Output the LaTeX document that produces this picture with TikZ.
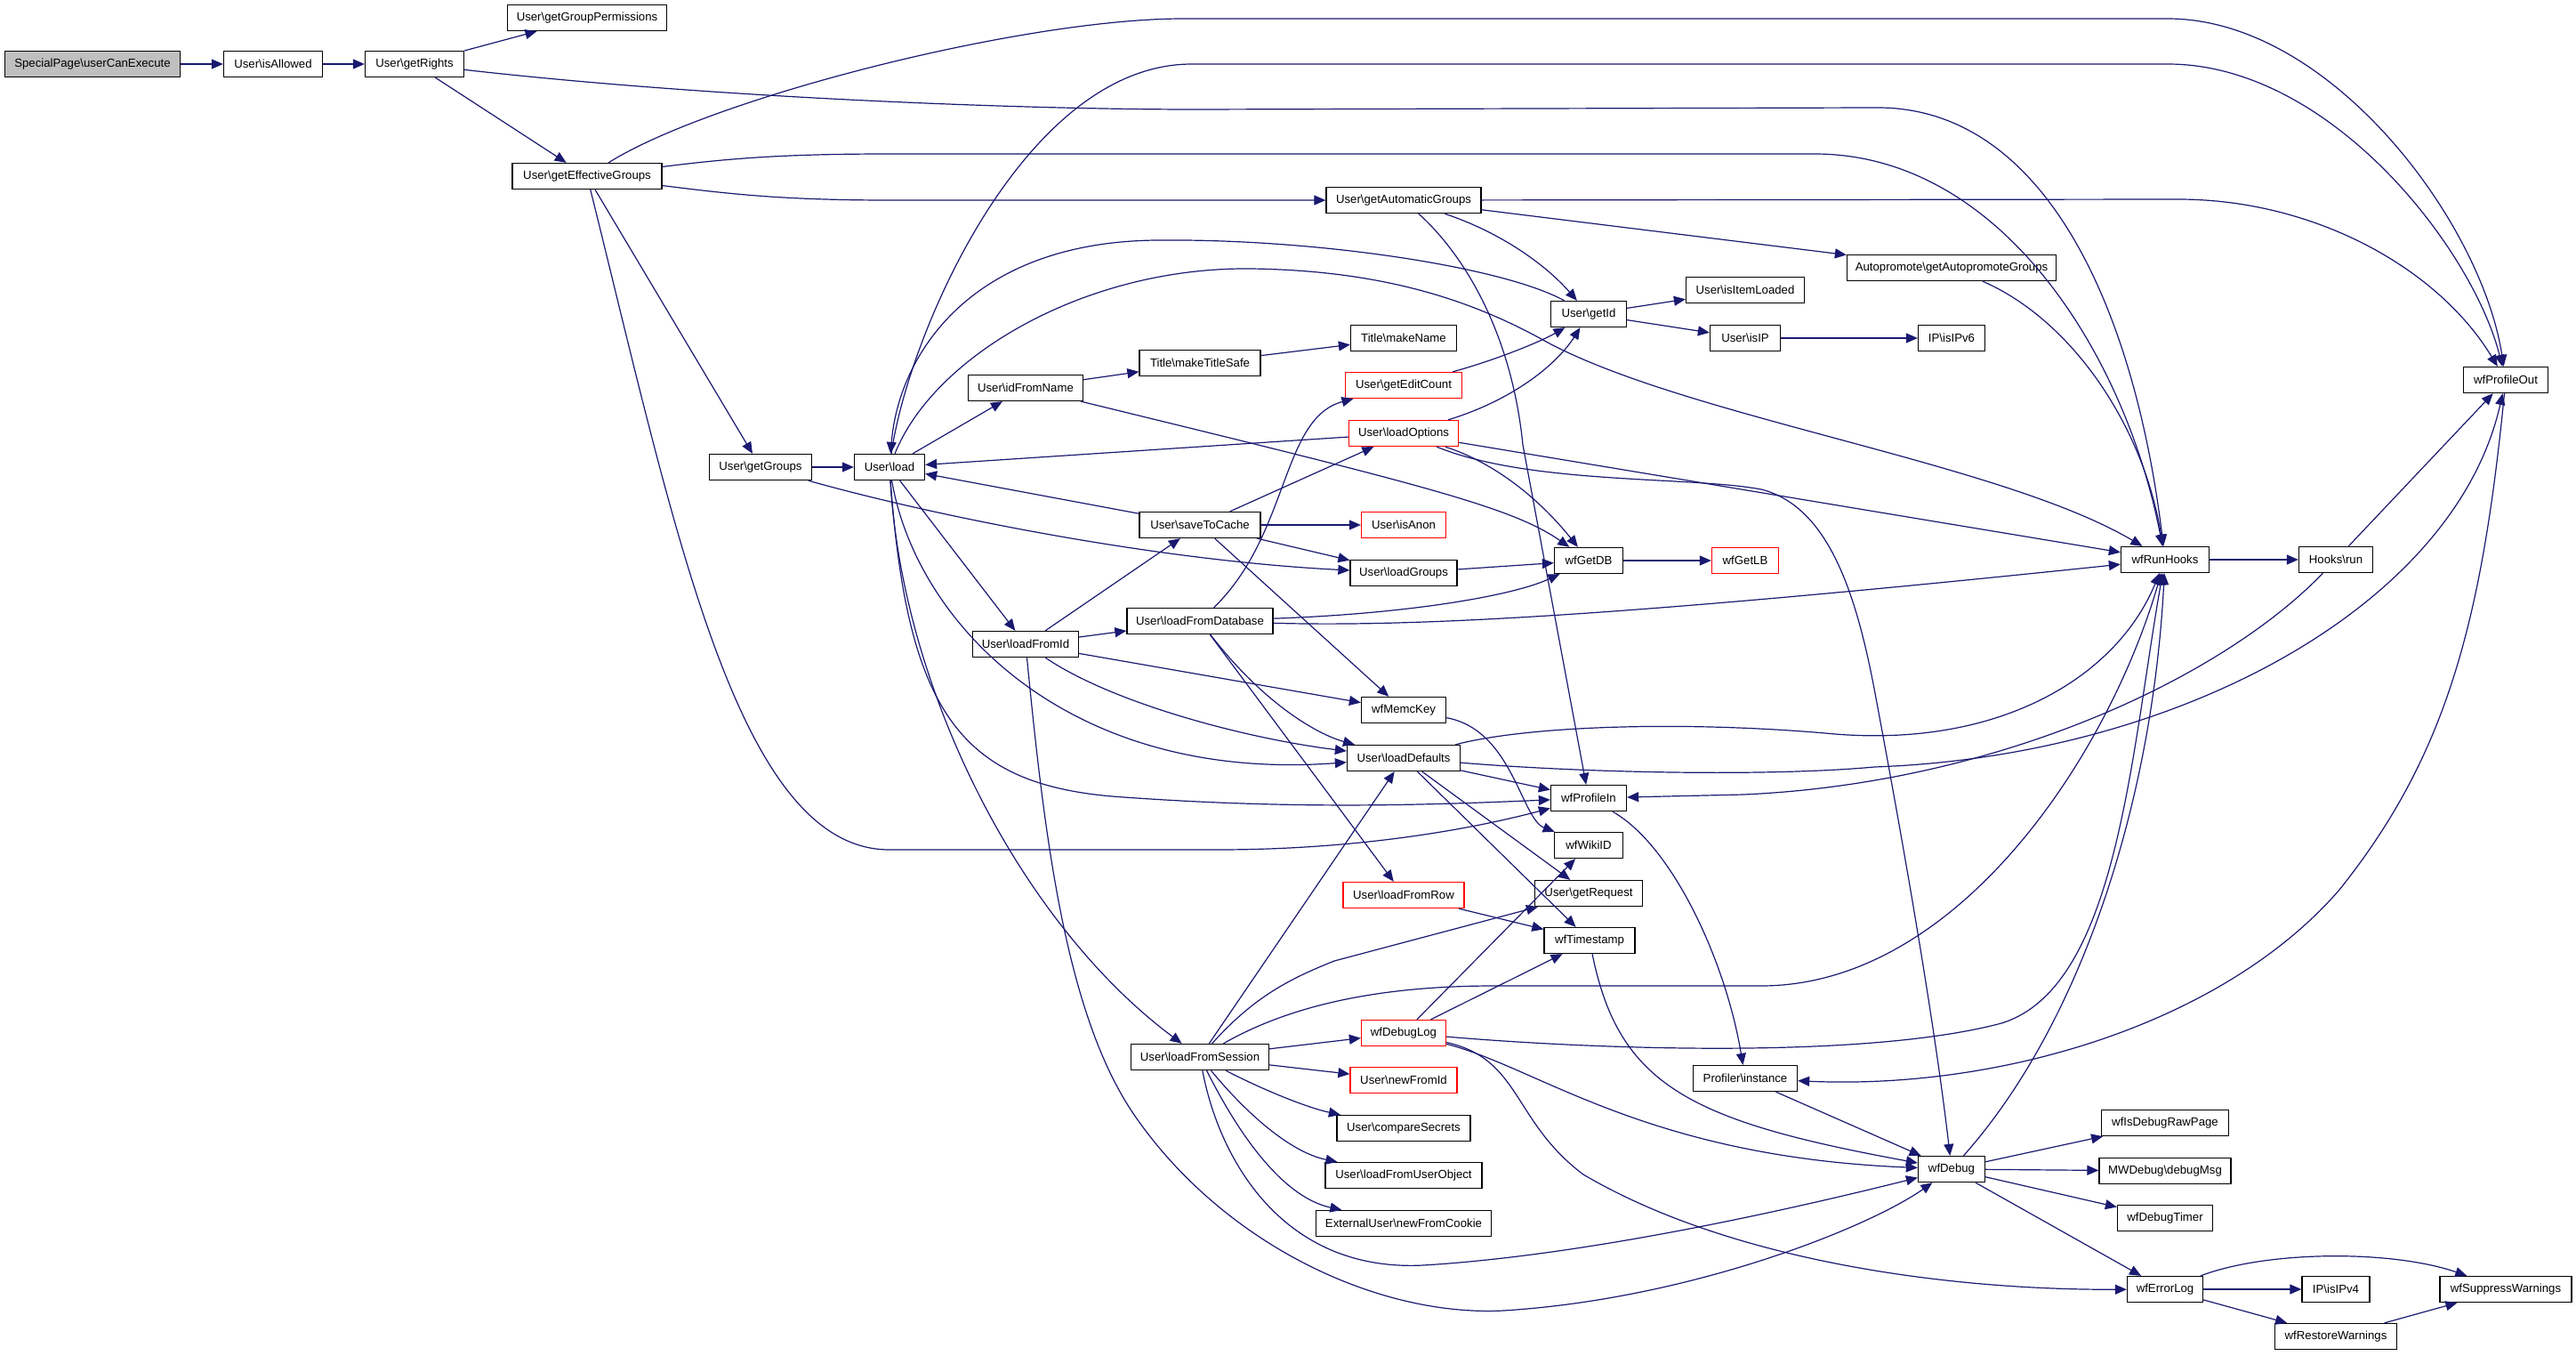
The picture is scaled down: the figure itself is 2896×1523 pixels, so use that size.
\documentclass[tikz,border=0pt]{standalone}
\usepackage{fontspec}
\setmainfont{Liberation Sans}
\usetikzlibrary{arrows.meta}
\definecolor{edgec}{HTML}{191970}
\definecolor{rootfill}{HTML}{BFBFBF}
\newcommand{\bsl}{\textbackslash}
\begin{document}
\begin{tikzpicture}[x=1pt,y=-1pt,
  nd/.style={draw=black, fill=white, line width=1.3pt, minimum height=29pt, inner sep=0pt, font=\fontsize{13.2}{15}\selectfont},
  rd/.style={nd, draw=red},
  e/.style={draw=edgec, line width=1.2pt, -{Triangle[length=13pt,width=11pt]}}]
\fill[white] (0,0) rectangle (2896,1523);
\path[use as bounding box] (0,0) rectangle (2896,1523);
% nodes
\node[nd, minimum width=197pt, fill=rootfill] (uce) at (104,72) {SpecialPage\bsl userCanExecute};
\node[nd, minimum width=111pt] (isAllowed) at (307,72) {User\bsl isAllowed};
\node[nd, minimum width=111pt] (getRights) at (466,72) {User\bsl getRights};
\node[nd, minimum width=179pt] (ggp) at (660,20) {User\bsl getGroupPermissions};
\node[nd, minimum width=168pt] (geg) at (660,198) {User\bsl getEffectiveGroups};
\node[nd, minimum width=115pt] (getGroups) at (855,525) {User\bsl getGroups};
\node[nd, minimum width=79pt] (load) at (1000,525) {User\bsl load};
\node[nd, minimum width=174pt] (gag) at (1578,225) {User\bsl getAutomaticGroups};
\node[nd, minimum width=85pt] (getId) at (1786,353) {User\bsl getId};
\node[nd, minimum width=133pt] (isItemLoaded) at (1962,326) {User\bsl isItemLoaded};
\node[nd, minimum width=79pt] (isIP) at (1962,380) {User\bsl isIP};
\node[nd, minimum width=75pt] (isIPv6) at (2194,380) {IP\bsl isIPv6};
\node[nd, minimum width=119pt] (makeName) at (1578,380) {Title\bsl makeName};
\node[nd, minimum width=136pt] (makeTitleSafe) at (1349,408) {Title\bsl makeTitleSafe};
\node[nd, minimum width=129pt] (idFromName) at (1153,436) {User\bsl idFromName};
\node[rd, minimum width=131pt] (getEditCount) at (1578,433) {User\bsl getEditCount};
\node[rd, minimum width=123pt] (loadOptions) at (1578,487) {User\bsl loadOptions};
\node[nd, minimum width=235pt] (autoprom) at (2194,301) {Autopromote\bsl getAutopromoteGroups};
\node[nd, minimum width=95pt] (wfProfileOut) at (2817,427) {wfProfileOut};
\node[nd, minimum width=136pt] (saveToCache) at (1349,590) {User\bsl saveToCache};
\node[rd, minimum width=95pt] (isAnon) at (1578,590) {User\bsl isAnon};
\node[nd, minimum width=77pt] (wfGetDB) at (1786,630) {wfGetDB};
\node[rd, minimum width=75pt] (wfGetLB) at (1962,630) {wfGetLB};
\node[nd, minimum width=120pt] (loadGroups) at (1578,644) {User\bsl loadGroups};
\node[nd, minimum width=164pt] (loadFromDatabase) at (1349,698) {User\bsl loadFromDatabase};
\node[nd, minimum width=119pt] (loadFromId) at (1153,724) {User\bsl loadFromId};
\node[nd, minimum width=95pt] (wfMemcKey) at (1578,798) {wfMemcKey};
\node[nd, minimum width=127pt] (loadDefaults) at (1578,852) {User\bsl loadDefaults};
\node[nd, minimum width=85pt] (wfProfileIn) at (1786,897) {wfProfileIn};
\node[nd, minimum width=77pt] (wfWikiID) at (1786,950) {wfWikiID};
\node[rd, minimum width=136pt] (loadFromRow) at (1578,1006) {User\bsl loadFromRow};
\node[nd, minimum width=121pt] (getRequest) at (1786,1004) {User\bsl getRequest};
\node[nd, minimum width=99pt] (wfRunHooks) at (2434,629) {wfRunHooks};
\node[nd, minimum width=83pt] (hooksRun) at (2626,629) {Hooks\bsl run};
\node[nd, minimum width=102pt] (wfTimestamp) at (1787,1057) {wfTimestamp};
\node[rd, minimum width=95pt] (wfDebugLog) at (1578,1161) {wfDebugLog};
\node[nd, minimum width=155pt] (loadFromSession) at (1349,1188) {User\bsl loadFromSession};
\node[rd, minimum width=120pt] (newFromId) at (1578,1214) {User\bsl newFromId};
\node[nd, minimum width=150pt] (compareSecrets) at (1578,1268) {User\bsl compareSecrets};
\node[nd, minimum width=176pt] (loadFromUserObject) at (1578,1321) {User\bsl loadFromUserObject};
\node[nd, minimum width=197pt] (newFromCookie) at (1578,1375) {ExternalUser\bsl newFromCookie};
\node[nd, minimum width=117pt] (profInst) at (1962,1212) {Profiler\bsl instance};
\node[nd, minimum width=75pt] (wfDebug) at (2194,1314) {wfDebug};
\node[nd, minimum width=143pt] (wfIsDebugRawPage) at (2434,1262) {wfIsDebugRawPage};
\node[nd, minimum width=148pt] (debugMsg) at (2434,1316) {MWDebug\bsl debugMsg};
\node[nd, minimum width=107pt] (wfDebugTimer) at (2434,1369) {wfDebugTimer};
\node[nd, minimum width=85pt] (wfErrorLog) at (2434,1449) {wfErrorLog};
\node[nd, minimum width=76pt] (isIPv4) at (2626,1449) {IP\bsl isIPv4};
\node[nd, minimum width=148pt] (wfSuppressWarnings) at (2817,1449) {wfSuppressWarnings};
\node[nd, minimum width=137pt] (wfRestoreWarnings) at (2626,1502) {wfRestoreWarnings};
% edges
\draw[e] (uce) -- (isAllowed);
\draw[e] (isAllowed) -- (getRights);
\draw[e] (getRights) -- (ggp);
\draw[e] (getRights) -- (geg);
\draw[e] (getRights) .. controls (800,110) and (1150,123) .. (1343,123) -- (2107,121) .. controls (2300,118) and (2400,350) .. (wfRunHooks);
\draw[e] (geg) .. controls (800,110) and (1150,21) .. (1330,21) -- (2437,21) .. controls (2620,21) and (2790,250) .. (wfProfileOut);
\draw[e] (load) .. controls (1020,380) and (1150,72) .. (1340,72) -- (2437,72) .. controls (2620,72) and (2780,280) .. (wfProfileOut);
\draw[e] (geg) .. controls (820,178) and (880,173) .. (1000,173) -- (2040,173) .. controls (2250,173) and (2390,400) .. (wfRunHooks);
\draw[e] (geg) .. controls (820,218) and (880,225) .. (1000,225) -- (gag);
\draw[e] (geg) -- (getGroups);
\draw[e] (geg) .. controls (760,600) and (830,955) .. (1000,955) -- (1368,955) .. controls (1550,955) and (1680,925) .. (wfProfileIn);
\draw[e] (gag) -- (2449,224) .. controls (2600,224) and (2740,300) .. (wfProfileOut);
\draw[e] (gag) -- (autoprom);
\draw[e] (gag) .. controls (1690,262) and (1740,300) .. (getId);
\draw[e] (gag) .. controls (1650,290) and (1700,380) .. (1712,500) -- (wfProfileIn);
\draw[e] (autoprom) .. controls (2330,360) and (2410,480) .. (wfRunHooks);
\draw[e] (getId) -- (isItemLoaded);
\draw[e] (getId) -- (isIP);
\draw[e] (isIP) -- (isIPv6);
\draw[e] (getId) .. controls (1690,300) and (1480,268) .. (1300,270) .. controls (1090,272) and (1010,400) .. (load);
\draw[e] (makeTitleSafe) -- (makeName);
\draw[e] (idFromName) -- (makeTitleSafe);
\draw[e] (idFromName) .. controls (1600,545) and (1700,570) .. (wfGetDB);
\draw[e] (getEditCount) .. controls (1680,405) and (1730,385) .. (getId);
\draw[e] (loadOptions) .. controls (1700,450) and (1750,410) .. (getId);
\draw[e] (loadOptions) -- (load);
\draw[e] (loadOptions) -- (wfRunHooks);
\draw[e] (loadOptions) .. controls (1680,520) and (1730,560) .. (wfGetDB);
\draw[e] (loadOptions) .. controls (1720,545) and (1900,535) .. (1980,550) .. controls (2060,570) and (2090,680) .. (2110,790) .. controls (2140,950) and (2175,1150) .. (wfDebug);
\draw[e] (load) -- (idFromName);
\draw[e] (load) -- (loadFromId);
\draw[e] (load) .. controls (1030,700) and (1200,880) .. (loadDefaults);
\draw[e] (load) .. controls (1020,800) and (1080,880) .. (1250,895) .. controls (1450,910) and (1600,905) .. (wfProfileIn);
\draw[e] (load) .. controls (1015,780) and (1150,1040) .. (loadFromSession);
\draw[e] (load) .. controls (1050,400) and (1220,300) .. (1406,302) .. controls (1560,304) and (1660,340) .. (1740,385) .. controls (1900,470) and (2250,520) .. (wfRunHooks);
\draw[e] (saveToCache) -- (load);
\draw[e] (getGroups) -- (load);
\draw[e] (getGroups) .. controls (1050,580) and (1300,630) .. (loadGroups);
\draw[e] (saveToCache) -- (isAnon);
\draw[e] (saveToCache) -- (loadGroups);
\draw[e] (saveToCache) -- (wfMemcKey);
\draw[e] (saveToCache) -- (loadOptions);
\draw[e] (loadGroups) -- (wfGetDB);
\draw[e] (wfGetDB) -- (wfGetLB);
\draw[e] (loadFromDatabase) .. controls (1450,600) and (1440,470) .. (getEditCount);
\draw[e] (loadFromDatabase) .. controls (1580,690) and (1700,670) .. (wfGetDB);
\draw[e] (loadFromDatabase) .. controls (1600,705) and (1850,690) .. (wfRunHooks);
\draw[e] (loadFromDatabase) .. controls (1420,790) and (1480,825) .. (loadDefaults);
\draw[e] (loadFromDatabase) -- (loadFromRow);
\draw[e] (loadFromId) -- (saveToCache);
\draw[e] (loadFromId) -- (loadFromDatabase);
\draw[e] (loadFromId) -- (wfMemcKey);
\draw[e] (loadFromId) .. controls (1250,790) and (1400,830) .. (loadDefaults);
\draw[e] (loadFromId) .. controls (1175,950) and (1200,1150) .. (1280,1260) .. controls (1380,1400) and (1550,1480) .. (1690,1473) .. controls (1900,1460) and (2100,1380) .. (wfDebug);
\draw[e] (wfMemcKey) .. controls (1700,820) and (1710,920) .. (wfWikiID);
\draw[e] (loadDefaults) .. controls (1720,815) and (1900,810) .. (2063,825) .. controls (2250,840) and (2380,760) .. (wfRunHooks);
\draw[e] (loadDefaults) .. controls (1800,870) and (2000,872) .. (2107,862) .. controls (2450,850) and (2760,680) .. (wfProfileOut);
\draw[e] (loadDefaults) -- (wfProfileIn);
\draw[e] (loadDefaults) -- (getRequest);
\draw[e] (loadDefaults) -- (wfTimestamp);
\draw[e] (wfProfileIn) .. controls (1880,950) and (1940,1080) .. (profInst);
\draw[e] (hooksRun) -- (wfProfileOut);
\draw[e] (hooksRun) .. controls (2500,760) and (2250,880) .. (1960,893) -- (wfProfileIn);
\draw[e] (wfRunHooks) -- (hooksRun);
\draw[e] (wfProfileOut) .. controls (2790,700) and (2750,850) .. (2630,1000) .. controls (2500,1150) and (2250,1225) .. (profInst);
\draw[e] (wfDebug) .. controls (2340,1150) and (2420,900) .. (wfRunHooks);
\draw[e] (wfDebugLog) .. controls (1800,1180) and (2100,1190) .. (2250,1150) .. controls (2380,1110) and (2395,850) .. (wfRunHooks);
\draw[e] (loadFromSession) .. controls (1450,1130) and (1550,1108) .. (1680,1108) -- (1980,1108) .. controls (2200,1108) and (2370,850) .. (wfRunHooks);
\draw[e] (loadFromSession) .. controls (1370,1300) and (1440,1430) .. (1600,1422) .. controls (1800,1410) and (2050,1350) .. (wfDebug);
\draw[e] (loadFromSession) -- (wfDebugLog);
\draw[e] (loadFromSession) -- (newFromId);
\draw[e] (loadFromSession) .. controls (1420,1225) and (1470,1245) .. (compareSecrets);
\draw[e] (loadFromSession) .. controls (1400,1250) and (1450,1295) .. (loadFromUserObject);
\draw[e] (loadFromSession) .. controls (1390,1270) and (1440,1345) .. (newFromCookie);
\draw[e] (loadFromSession) -- (loadDefaults);
\draw[e] (loadFromSession) .. controls (1410,1120) and (1450,1100) .. (1500,1080) -- (getRequest);
\draw[e] (loadFromRow) -- (wfTimestamp);
\draw[e] (wfDebugLog) -- (wfTimestamp);
\draw[e] (wfDebugLog) -- (wfWikiID);
\draw[e] (wfDebugLog) .. controls (1730,1200) and (1850,1300) .. (wfDebug);
\draw[e] (wfDebugLog) .. controls (1710,1190) and (1700,1260) .. (1780,1320) .. controls (1950,1420) and (2200,1450) .. (wfErrorLog);
\draw[e] (wfTimestamp) .. controls (1820,1220) and (1900,1260) .. (wfDebug);
\draw[e] (profInst) -- (wfDebug);
\draw[e] (wfDebug) -- (wfIsDebugRawPage);
\draw[e] (wfDebug) -- (debugMsg);
\draw[e] (wfDebug) -- (wfDebugTimer);
\draw[e] (wfDebug) -- (wfErrorLog);
\draw[e] (wfErrorLog) -- (isIPv4);
\draw[e] (wfErrorLog) .. controls (2550,1405) and (2690,1405) .. (wfSuppressWarnings);
\draw[e] (wfErrorLog) -- (wfRestoreWarnings);
\draw[e] (wfRestoreWarnings) -- (wfSuppressWarnings);
\end{tikzpicture}
\end{document}
